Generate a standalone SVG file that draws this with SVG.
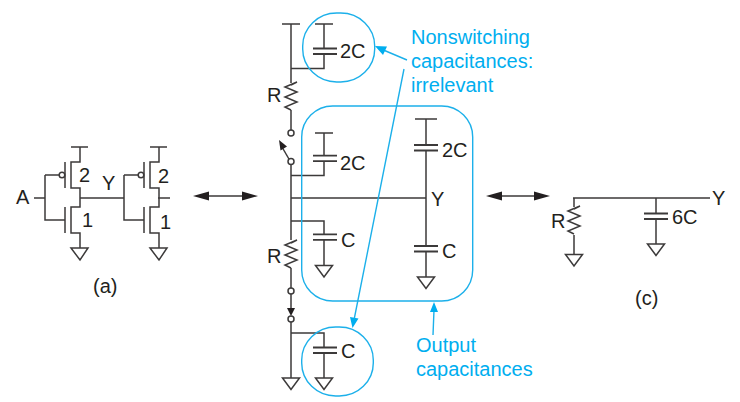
<svg xmlns="http://www.w3.org/2000/svg" width="740" height="402" viewBox="0 0 740 402">
<style>
text{font-family:"Liberation Sans",Arial,sans-serif;font-size:20px;fill:#231f20}
.b{fill:#00aeef}
path,circle{fill:none;stroke:#3c3a3a;stroke-width:1.5}
.p{stroke-width:1.8}
.bl{fill:none;stroke:#1cb0ea;stroke-width:1.4}
.bh{fill:#00aeef;stroke:none}
.k{fill:#231f20;stroke:none}
circle{fill:#fff}
</style>
<defs>
<g id="inv">
<path d="M71 147H88M80 147V162H71V188H80V207H71V233H80V248M65 162V188M65 207V233M45 175H59.500M45 175V220H65M71 248H88L80 260Z"/>
<circle cx="62" cy="175" r="2.800"/>
</g>
<path id="gnd" d="M-8.500 0H8.500L0 11.500Z"/>
<path id="res" d="M0 0L6-3L-6 2L6 7L-6 12L6 17L-6 22L0 25"/>
<path id="cap" class="p" d="M-12 0H12M-12 5.500H12"/>
<path id="arr" class="k" d="M0 0L16-4.500V4.500Z"/>
</defs>
<g id="connectors">
<path d="M34 198H45M80 198H124M158 198H170"/>
<path d="M291 24V83M282 24H300M291 68.500H324V54M324 48V24M315 24H333"/>
<use href="#res" x="291" y="85"/>
<path d="M291 110V130M291 164.500V240M291 175.600H324V161M324 156V133M315 133H333M291 198H426M291 221H324V234M324 240V265M426 119V145M415 119H437M426 151V246M426 252V277"/>
<path d="M289.500 160L282 147"/>
<path class="k" d="M279 140L287 146.500L280.500 150.500Z"/>
<use href="#res" x="291" y="243"/>
<path d="M291 268V288M291 294V309M291 322V378M291 333H324V347M324 353V378"/>
<path class="k" d="M287 308H295L291 316Z"/>
<path d="M573 198H710M574 198V207M574 235V254M656 198V213M656 219V244"/>
</g>
<g id="nodeA"><use href="#inv"/><use href="#inv" x="79"/></g>
<g id="caps">
<use href="#cap" x="325" y="48.500"/><use href="#cap" x="325" y="155.700"/><use href="#cap" x="426" y="145"/>
<use href="#cap" x="325" y="234.300"/><use href="#cap" x="426" y="246"/><use href="#cap" x="325" y="347.500"/><use href="#cap" x="656" y="213.500"/>
<use href="#gnd" x="324" y="265.500"/><use href="#gnd" x="426" y="277"/><use href="#gnd" x="291" y="378"/><use href="#gnd" x="324" y="378"/>
<use href="#gnd" x="574" y="254.500"/><use href="#gnd" x="656" y="244"/>
<use href="#res" x="574" y="209"/>
<circle cx="291" cy="133" r="3"/><circle cx="291" cy="161.500" r="3"/><circle cx="291" cy="291" r="3"/><circle cx="291" cy="319" r="3"/>
</g>
<g id="arrows">
<path d="M200 196H250M493 196H542"/>
<use href="#arr" x="193" y="196"/><use href="#arr" transform="translate(258 196) scale(-1 1)"/>
<use href="#arr" x="486" y="196"/><use href="#arr" transform="translate(550 196) scale(-1 1)"/>
</g>
<g id="blue">
<rect class="bl" x="302.700" y="13" width="72" height="69" rx="34" ry="33"/>
<rect class="bl" x="301.700" y="106" width="171" height="195" rx="31"/>
<rect class="bl" x="301.700" y="327" width="71.600" height="69" rx="34" ry="33"/>
<path class="bl" d="M407 60L381 49M404 69L354 320M433 335L434 310"/>
<path class="bh" d="M375 46L387 46.500L383 55ZM352.500 328L350 317L358.500 318.500ZM434 302L438 312H430Z"/>
</g>
<g id="labels">
<text x="16" y="204">A</text><text x="79" y="182">2</text><text x="82" y="227">1</text><text x="102" y="190">Y</text><text x="158" y="183">2</text><text x="160" y="229">1</text><text x="93" y="293">(a)</text>
<text x="340" y="58">2C</text><text x="340" y="170">2C</text><text x="442" y="157">2C</text><text x="267" y="102">R</text><text x="267" y="263">R</text><text x="431" y="206">Y</text>
<text x="341" y="247">C</text><text x="442" y="258">C</text><text x="341" y="358">C</text>
<text x="551" y="228">R</text><text x="672" y="224">6C</text><text x="712" y="205">Y</text><text x="635" y="305">(c)</text>
<text class="b" x="411" y="44">Nonswitching</text><text class="b" x="411" y="68">capacitances:</text><text class="b" x="411" y="92">irrelevant</text>
<text class="b" x="416" y="352">Output</text><text class="b" x="416" y="376">capacitances</text>
</g>
</svg>
